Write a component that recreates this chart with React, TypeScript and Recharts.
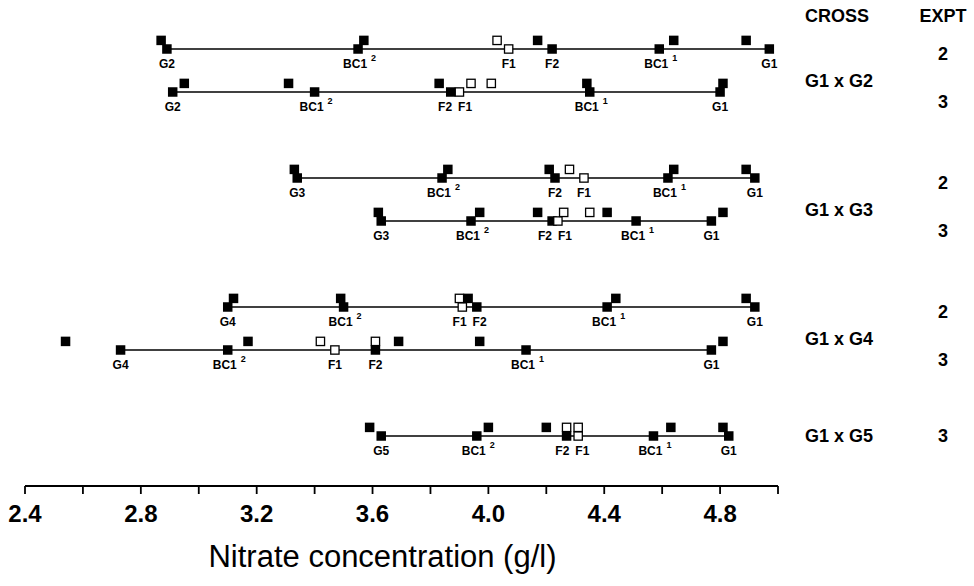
import React from 'react'
import { ScatterChart, Scatter, XAxis, YAxis } from 'recharts'

const FONT = '"Liberation Sans", Arial, Helvetica, sans-serif'
const INK = '#000'

// rows, top to bottom
const crosses = ['G1 x G2', 'G1 x G3', 'G1 x G4', 'G1 x G5']
const rowCross = [0, 0, 1, 1, 2, 2, 3]
const rowExpt = [2, 3, 2, 3, 2, 3, 3]
const rowSlot = [1, 2, 4, 5, 7, 8, 10]
const parentNames = ['G2', 'G2', 'G3', 'G3', 'G4', 'G4', 'G5']

// generation means on each line (g/l)
const parentMean = [2.89, 2.91, 3.34, 3.63, 3.1, 2.73, 3.63]
const bc12Mean = [3.55, 3.4, 3.84, 3.94, 3.5, 3.1, 3.96]
const f1Mean = [4.07, 3.9, 4.33, 4.24, 3.91, 3.47, 4.31]
const f2Mean = [4.22, 3.87, 4.23, 4.22, 3.96, 3.61, 4.27]
const bc11Mean = [4.59, 4.35, 4.62, 4.51, 4.41, 4.13, 4.57]
const g1Mean = [4.97, 4.8, 4.92, 4.77, 4.92, 4.77, 4.83]

// the second set of squares, drawn just above each line
const upperFilled = [
  [2.87, 3.57, 4.17, 4.64, 4.89],
  [2.95, 3.31, 3.83, 4.34, 4.81],
  [3.33, 3.86, 4.21, 4.64, 4.89],
  [3.62, 3.97, 4.17, 4.41, 4.81],
  [3.12, 3.49, 3.93, 4.44, 4.89],
  [2.54, 3.17, 3.69, 3.97, 4.81],
  [3.59, 4.0, 4.2, 4.63, 4.81],
]
const upperOpen = [[4.03], [3.94, 4.01], [4.28], [4.26, 4.35], [3.9], [3.42, 3.61], [4.27, 4.31]]

const xTicks = [2.4, 2.6, 2.8, 3.0, 3.2, 3.4, 3.6, 3.8, 4.0, 4.2, 4.4, 4.6, 4.8, 5.0]
const xTickLabels = ['2.4', '2.8', '3.2', '3.6', '4.0', '4.4', '4.8']

// layout
const W = 974
const H = 586
const LEFT = 25
const RIGHT_W = 196
const PX = (W - LEFT - RIGHT_W) / (5.0 - 2.4)
const UPPER_SHIFT = 0.2

type Pt = { x: number; y: number; label?: string; sup?: string; open?: boolean; dx?: number }

const lineRows: Pt[][] = rowSlot.map((slot, i) => {
  const pts: Pt[] = [
    { x: parentMean[i], y: slot, label: parentNames[i] },
    { x: bc12Mean[i], y: slot, label: 'BC1', sup: '2' },
    { x: f1Mean[i], y: slot, label: 'F1', open: true },
    { x: f2Mean[i], y: slot, label: 'F2' },
    { x: bc11Mean[i], y: slot, label: 'BC1', sup: '1' },
    { x: g1Mean[i], y: slot, label: 'G1' },
  ]
  // push F1 / F2 labels apart when the means nearly coincide
  const f1 = f1Mean[i]
  const f2 = f2Mean[i]
  if (Math.abs(f1 - f2) * PX < 20) {
    const mid = (f1 + f2) / 2
    pts[2].dx = (mid - f1) * PX + (f1 < f2 ? -10 : 10)
    pts[3].dx = (mid - f2) * PX + (f2 < f1 ? -10 : 10)
  }
  return pts.sort((a, b) => a.x - b.x)
})

const upperRows: Pt[][] = rowSlot.map((slot, i) => [
  ...upperFilled[i].map((x) => ({ x, y: slot - UPPER_SHIFT })),
  ...upperOpen[i].map((x) => ({ x, y: slot - UPPER_SHIFT, open: true })),
])

const crossSlot = crosses.map((_, c) => {
  const s = rowSlot.filter((_, i) => rowCross[i] === c)
  return s.reduce((a, b) => a + b, 0) / s.length
})
const groupSize = (c: number) => rowCross.filter((rc) => rc === c).length

const yTicks = Array.from(new Set([...rowSlot, ...crossSlot])).sort((a, b) => a - b)

const Square = (props: any) => {
  const { cx, cy, payload } = props
  if (cx == null || cy == null) return <g />
  const s = 9.5
  return (
    <g>
      {payload.open ? (
        <rect x={cx - s / 2 + 0.6} y={cy - s / 2 + 0.6} width={s - 1.2} height={s - 1.2} fill="#fff" stroke={INK} strokeWidth={1.3} />
      ) : (
        <rect x={cx - s / 2} y={cy - s / 2} width={s} height={s} fill={INK} />
      )}
      {payload.label && (
        <text
          x={cx + (payload.dx ?? 0) - (payload.sup ? 3 : 0)}
          y={cy + 19}
          textAnchor="middle"
          fontSize={12}
          fontWeight="bold"
          fontFamily={FONT}
          fill={INK}
        >
          {payload.label}
        </text>
      )}
      {payload.sup && (
        <text x={cx + 13} y={cy + 12} fontSize={9} fontWeight="bold" fontFamily={FONT} fill={INK}>
          {payload.sup}
        </text>
      )}
    </g>
  )
}

const XTick = (props: any) => {
  const { x, y, payload } = props
  const label = xTickLabels.find((l) => Math.abs(parseFloat(l) - payload.value) < 1e-6)
  if (!label) return <g />
  return (
    <text x={x} y={y + 26} textAnchor="middle" fontSize={24} fontWeight="bold" fontFamily={FONT} fill={INK}>
      {label}
    </text>
  )
}

const RightTick = (props: any) => {
  const { x, y, payload } = props
  const v = payload.value
  const parts: React.ReactNode[] = []
  rowSlot.forEach((slot, i) => {
    if (Math.abs(slot - v) > 1e-6) return
    const c = rowCross[i]
    const first = rowSlot.findIndex((_, j) => rowCross[j] === c) === i
    const dy = groupSize(c) === 1 ? 0 : first ? 5 : 9.5
    parts.push(
      <text key={'e' + i} x={x + 165} y={y + dy + 6.5} textAnchor="middle" fontSize={18} fontWeight="bold" fontFamily={FONT} fill={INK}>
        {rowExpt[i]}
      </text>
    )
  })
  crossSlot.forEach((slot, c) => {
    if (Math.abs(slot - v) > 1e-6) return
    const dy = groupSize(c) === 1 ? 0 : 10.5
    parts.push(
      <text key={'c' + c} x={x + 27} y={y + dy + 6.5} fontSize={18} fontWeight="bold" fontFamily={FONT} fill={INK}>
        {crosses[c]}
      </text>
    )
  })
  return <g>{parts}</g>
}

const HeaderLabel = (props: any) => {
  const vb = props.viewBox || { x: W - RIGHT_W, y: 6 }
  return (
    <g>
      <text x={vb.x + 27} y={22} fontSize={18} fontWeight="bold" fontFamily={FONT} fill={INK}>
        CROSS
      </text>
      <text x={vb.x + 165} y={22} textAnchor="middle" fontSize={18} fontWeight="bold" fontFamily={FONT} fill={INK}>
        EXPT
      </text>
    </g>
  )
}

const TitleLabel = (props: any) => {
  const vb = props.viewBox || { x: LEFT, y: 486, width: W - LEFT - RIGHT_W }
  return (
    <text x={vb.x + vb.width / 2 - 19} y={vb.y + 81} textAnchor="middle" fontSize={31} fontFamily={FONT} fill={INK}>
      Nitrate concentration (g/l)
    </text>
  )
}

export default function App() {
  return (
    <div style={{ position: 'absolute', left: 0, top: 0, width: W, height: H, background: '#fff' }}>
      <ScatterChart width={W} height={H} margin={{ top: 6, right: 0, bottom: 0, left: LEFT }}>
        <XAxis
          type="number"
          dataKey="x"
          domain={[2.4, 5.0]}
          ticks={xTicks}
          interval={0}
          allowDataOverflow
          height={100}
          tickSize={8}
          tickMargin={2}
          tick={<XTick />}
          axisLine={{ stroke: INK, strokeWidth: 2 }}
          tickLine={{ stroke: INK, strokeWidth: 1.8 }}
          label={TitleLabel}
        />
        <YAxis
          type="number"
          dataKey="y"
          orientation="right"
          domain={[0, 11.163]}
          reversed
          allowDataOverflow
          ticks={yTicks}
          interval={0}
          width={RIGHT_W}
          tickSize={0}
          tickMargin={0}
          tickLine={false}
          axisLine={false}
          tick={<RightTick />}
          label={HeaderLabel}
        />
        {lineRows.map((pts, i) => (
          <Scatter
            key={'line' + i}
            data={pts}
            line={{ stroke: INK, strokeWidth: 1.7 }}
            lineJointType="linear"
            shape={Square}
            isAnimationActive={false}
          />
        ))}
        {upperRows.map((pts, i) => (
          <Scatter key={'up' + i} data={pts} shape={Square} isAnimationActive={false} />
        ))}
      </ScatterChart>
    </div>
  )
}
